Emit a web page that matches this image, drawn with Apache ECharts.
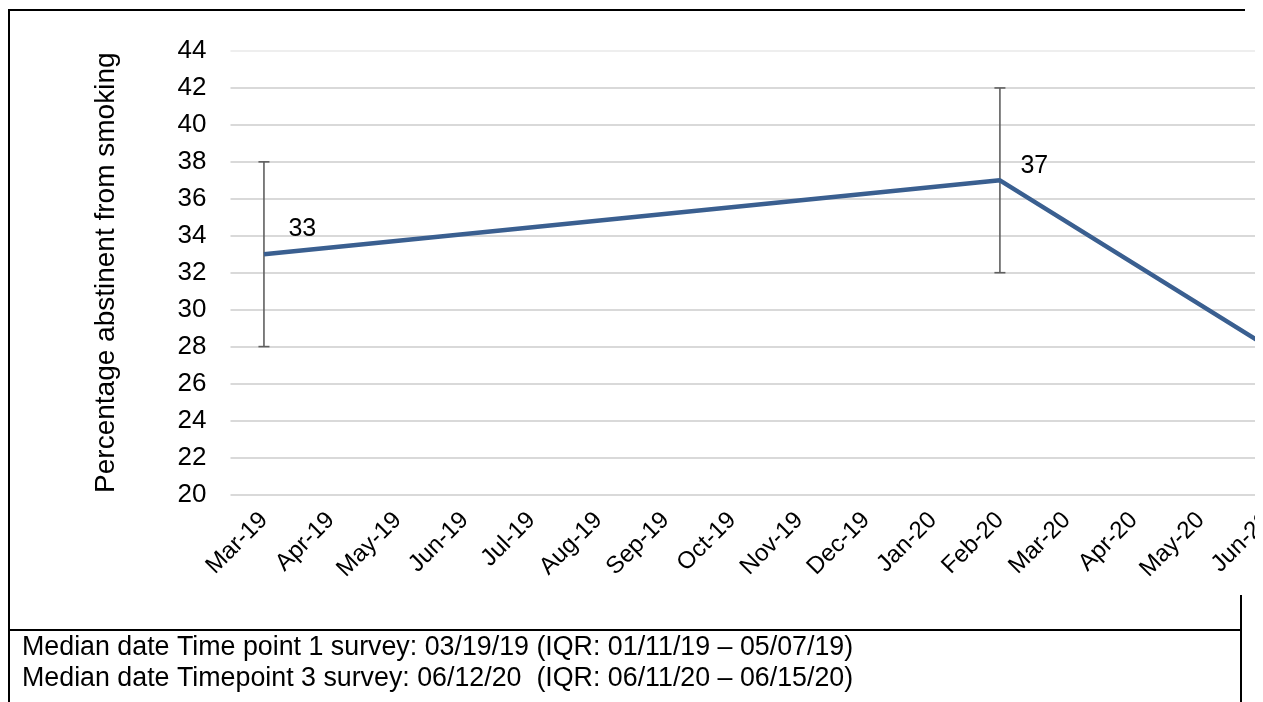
<!DOCTYPE html>
<html>
<head>
<meta charset="utf-8">
<script src="https://cdn.jsdelivr.net/npm/echarts@6/dist/echarts.min.js"></script>
<style>
  html, body { margin: 0; padding: 0; background: #fff; overflow: hidden; }
  #frame { position: absolute; left: 0; top: 0; width: 1255px; height: 702px; overflow: hidden; }
  #chart { width: 1310px; height: 702px; }
</style>
</head>
<body>
<div id="frame"><div id="chart"></div></div>
<script>
// Months on the x axis
const months = ['Mar-19', 'Apr-19', 'May-19', 'Jun-19', 'Jul-19', 'Aug-19', 'Sep-19', 'Oct-19',
                'Nov-19', 'Dec-19', 'Jan-20', 'Feb-20', 'Mar-20', 'Apr-20', 'May-20', 'Jun-20'];
// Percentage abstinent from smoking at each survey time point (null = no survey that month)
const abstinence = [33, null, null, null, null, null, null, null, null, null, null, 37, null, null, null, 28];
// Interquartile range around each estimate
const iqrLow  = [28, null, null, null, null, null, null, null, null, null, null, 32, null, null, null, null];
const iqrHigh = [38, null, null, null, null, null, null, null, null, null, null, 42, null, null, null, null];
// Value axis range
const yMin = 20, yMax = 44, yStep = 2;
// Footnote lines under the chart
const notes = [
  'Median date Time point 1 survey: 03/19/19 (IQR: 01/11/19 \u2013 05/07/19)',
  'Median date Timepoint 3 survey: 06/12/20  (IQR: 06/11/20 \u2013 06/15/20)'
];
const yTitle = 'Percentage abstinent from smoking';

const FONT = '"Liberation Sans", Arial, sans-serif';
const LINE_BLUE = '#3a5f90';

// per-point label nudges (value labels sit above-right of the marker)
const labelNudge = { 0: [19, -25], 11: [15, -14] };

const lineData = abstinence.map((v, i) => {
  if (v === null) return null;
  const item = { value: v };
  if (labelNudge[i]) item.label = { offset: labelNudge[i] };
  return item;
});

const errorData = [];
iqrLow.forEach((lo, i) => {
  if (lo !== null && iqrHigh[i] !== null) errorData.push([i, lo, iqrHigh[i]]);
});

const gridColors = [];
for (let v = yMin; v <= yMax; v += yStep) gridColors.push(v === yMax ? '#eeeeee' : '#d9d9d9');

const chart = echarts.init(document.getElementById('chart'), null, { renderer: 'canvas' });

chart.setOption({
  animation: false,
  backgroundColor: '#ffffff',
  grid: { left: 230.5, top: 51, width: 1070.5, height: 443.4, containLabel: false, outerBoundsMode: 'none' },
  xAxis: {
    type: 'category',
    data: months,
    boundaryGap: true,
    axisLine: { show: false },
    axisTick: { show: false },
    axisLabel: { rotate: 45, margin: 22, fontSize: 24, color: '#000', fontFamily: FONT, interval: 0 }
  },
  yAxis: {
    type: 'value',
    min: yMin, max: yMax, interval: yStep,
    name: yTitle,
    nameLocation: 'middle',
    nameRotate: 90,
    nameGap: 110,
    nameTextStyle: { fontSize: 28, color: '#000', fontFamily: FONT },
    axisLine: { show: false },
    axisTick: { show: false },
    axisLabel: { margin: 24, fontSize: 26, color: '#000', fontFamily: FONT },
    splitLine: { show: true, lineStyle: { color: gridColors, width: 2 } }
  },
  series: [
    {
      type: 'custom',
      name: 'IQR',
      z: 1,
      data: errorData,
      renderItem: function (params, api) {
        const x = api.value(0);
        const lo = api.coord([x, api.value(1)]);
        const hi = api.coord([x, api.value(2)]);
        const cap = 5.5;
        const style = { stroke: '#5f5f5f', lineWidth: 1.6 };
        return {
          type: 'group',
          children: [
            { type: 'line', shape: { x1: lo[0], y1: lo[1], x2: hi[0], y2: hi[1] }, style: style },
            { type: 'line', shape: { x1: lo[0] - cap, y1: lo[1], x2: lo[0] + cap, y2: lo[1] }, style: style },
            { type: 'line', shape: { x1: hi[0] - cap, y1: hi[1], x2: hi[0] + cap, y2: hi[1] }, style: style }
          ]
        };
      }
    },
    {
      type: 'line',
      name: 'Abstinent',
      z: 3,
      data: lineData,
      connectNulls: true,
      symbol: 'circle',
      symbolSize: 1,
      itemStyle: { color: 'rgba(0,0,0,0)' },
      lineStyle: { color: LINE_BLUE, width: 4.5 },
      label: {
        show: true, position: 'right', distance: 5,
        fontSize: 25, color: '#000', fontFamily: FONT,
        formatter: p => p.value
      }
    }
  ],
  graphic: {
    elements: [
      // frame lines
      { type: 'line', z: 100, shape: { x1: 8, y1: 10, x2: 1245, y2: 10 }, style: { stroke: '#000', lineWidth: 2 } },
      { type: 'line', z: 100, shape: { x1: 9, y1: 9, x2: 9, y2: 702 }, style: { stroke: '#000', lineWidth: 2 } },
      { type: 'line', z: 100, shape: { x1: 8, y1: 630, x2: 1242, y2: 630 }, style: { stroke: '#000', lineWidth: 2 } },
      { type: 'line', z: 100, shape: { x1: 1241, y1: 595, x2: 1241, y2: 702 }, style: { stroke: '#000', lineWidth: 2 } },
      // footnotes
      { type: 'text', z: 100, x: 22, y: 648, style: { text: notes[0], fontSize: 26.8, fill: '#000', fontFamily: FONT, verticalAlign: 'middle' } },
      { type: 'text', z: 100, x: 22, y: 679, style: { text: notes[1], fontSize: 26.8, fill: '#000', fontFamily: FONT, verticalAlign: 'middle' } }
    ]
  }
});
</script>
</body>
</html>
